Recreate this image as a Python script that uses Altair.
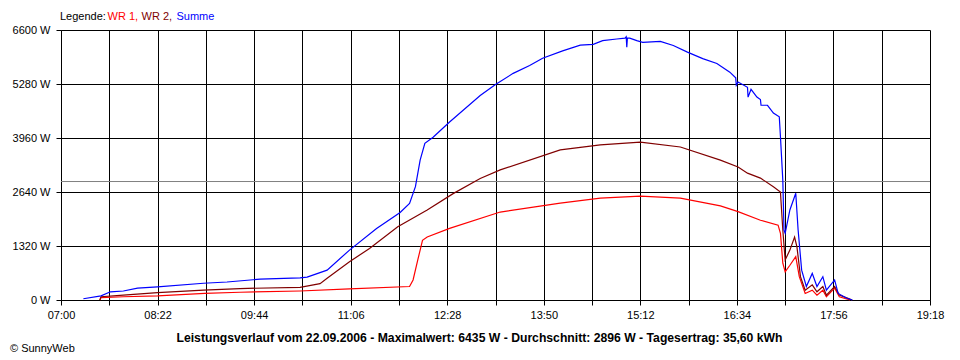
import altair as alt
import pandas as pd

# ---------------- data ----------------
wr1_time = ["07:33", "07:34", "07:53", "08:22", "09:02", "09:32", "10:23", "11:05", "11:56",
            "11:59", "12:03", "12:07", "12:11", "12:30", "13:13", "14:04", "14:38", "15:12",
            "15:46", "16:20", "16:35", "16:54", "17:09", "17:11", "17:13", "17:15", "17:19",
            "17:24", "17:27", "17:32", "17:38", "17:42", "17:47", "17:50", "17:57", "18:01", "18:10"]
wr1_w = [0, 60, 80, 100, 160, 190, 220, 270, 330,
         490, 980, 1460, 1540, 1750, 2150, 2370, 2490, 2540,
         2490, 2300, 2160, 1950, 1830, 1630, 900, 690, 850,
         1060, 570, 160, 240, 120, 240, 80, 290, 80, 0]

wr2_time = ["07:33", "07:34", "07:53", "08:22", "09:01", "09:32", "10:23", "10:40", "10:46",
            "11:05", "11:22", "11:46", "12:11", "12:33", "12:56", "13:13", "14:04", "14:38",
            "15:12", "15:46", "16:20", "16:35", "16:43", "16:54", "17:05", "17:11", "17:11:30",
            "17:13", "17:15", "17:19", "17:23", "17:25", "17:28", "17:32", "17:38", "17:42",
            "17:47", "17:50", "17:57", "18:01", "18:10", "18:12"]
wr2_w = [0, 80, 120, 180, 240, 280, 310, 400, 530,
         935, 1260, 1790, 2200, 2600, 2970, 3180, 3670, 3790,
         3860, 3740, 3420, 3250, 3100, 2980, 2770, 2640, 2400,
         1710, 980, 1220, 1540, 1300, 570, 240, 370, 200,
         330, 120, 330, 120, 20, 0]

sum_time = ["07:19", "07:34", "07:42", "07:53", "08:05", "08:22", "09:01", "09:21", "09:49",
            "10:23", "10:29", "10:46", "11:05", "11:28", "11:48", "11:56", "12:01", "12:05",
            "12:09", "12:16", "12:30", "12:56", "13:09", "13:24", "13:38", "13:49", "14:06",
            "14:21", "14:32", "14:40", "14:52", "14:59", "15:00", "15:00:30", "15:01", "15:03",
            "15:09", "15:14", "15:29", "15:40", "15:52", "16:05", "16:17", "16:28", "16:33",
            "16:33:30", "16:35", "16:43", "16:43:30", "16:46", "16:51", "16:54", "16:54:30",
            "17:00", "17:05", "17:10", "17:11", "17:13", "17:14", "17:15", "17:19", "17:24",
            "17:26", "17:29", "17:33", "17:38", "17:42", "17:47", "17:50", "17:57", "18:00",
            "18:07", "18:12"]
sum_w = [30, 100, 200, 220, 290, 320, 410, 440, 510,
         540, 560, 730, 1220, 1750, 2140, 2360, 2770, 3420,
         3830, 3980, 4350, 5000, 5270, 5540, 5730, 5910, 6090,
         6230, 6250, 6340, 6380, 6400, 6435, 6180, 6400, 6400,
         6340, 6300, 6320, 6220, 6060, 5900, 5780, 5570, 5430,
         5250, 5330, 5200, 4960, 5150, 4960, 4900, 4760,
         4760, 4570, 4480, 3990, 2930, 1710, 1630, 2200, 2610,
         1710, 730, 330, 650, 330, 570, 240, 490, 160,
         50, 0]

avg_w = [2896]
y_ticks = [0, 1320, 2640, 3960, 5280, 6600]
x_ticks = ["07:00", "07:41", "08:22", "09:03", "09:44", "10:25", "11:06", "11:47", "12:28",
           "13:09", "13:50", "14:31", "15:12", "15:53", "16:34", "17:15", "17:56", "18:37", "19:18"]
series_names = ["WR 1", "WR 2", "Summe"]
series_colors = ["#FF0000", "#800000", "#0000FF"]
legend_prefix = "Legende:"
legend_labels = ["WR 1,", "WR 2,", "Summe"]
footer_text = ("Leistungsverlauf vom 22.09.2006 - Maximalwert: 6435 W - "
               "Durchschnitt: 2896 W - Tagesertrag: 35,60 kWh")
copyright_text = "© SunnyWeb"


def to_min(s):
    parts = [int(p) for p in s.split(":")]
    m = parts[0] * 60 + parts[1]
    if len(parts) > 2:
        m += parts[2] / 60.0
    return m


frames = []
for name, times, vals in zip(series_names, [wr1_time, wr2_time, sum_time], [wr1_w, wr2_w, sum_w]):
    frames.append(pd.DataFrame({"m": [to_min(t) for t in times], "w": vals, "series": name}))
lines_df = pd.concat(frames, ignore_index=True)

x_vals = [to_min(t) for t in x_ticks]
x0 = x_vals[0]

FONT = "Liberation Sans"

x_enc = alt.X(
    "m:Q",
    scale=alt.Scale(domain=[x_vals[0], x_vals[-1]], nice=False, zero=False),
    axis=alt.Axis(
        values=x_vals, title=None, grid=True, tickSize=5, labelPadding=4,
        labelOverlap=False, labelFlush=False,
        labelExpr=(f"((datum.value - {x0}) % 82 == 0) ? "
                   "((floor(datum.value/60) < 10 ? '0' : '') + floor(datum.value/60) + ':' + "
                   "((datum.value % 60) < 10 ? '0' : '') + (datum.value % 60)) : ''"),
    ),
)
y_enc = alt.Y(
    "w:Q",
    scale=alt.Scale(domain=[0, 6600], nice=False),
    axis=alt.Axis(values=y_ticks, title=None, grid=True, tickSize=5, labelPadding=6,
                  labelExpr="datum.value + ' W'", labelOverlap=False),
)

avg_rule = alt.Chart(pd.DataFrame({"w": avg_w})).mark_rule(
    color="#808080", strokeWidth=1
).encode(y=y_enc)

lines = alt.Chart(lines_df).mark_line(strokeWidth=1.2, interpolate="linear").encode(
    x=x_enc,
    y=y_enc,
    color=alt.Color("series:N", scale=alt.Scale(domain=series_names, range=series_colors), legend=None),
)


def label(text, x, y, color="black", size=11, weight="normal", align="left"):
    return alt.Chart(pd.DataFrame({"t": [text]})).mark_text(
        font=FONT, fontSize=size, fontWeight=weight, color=color, align=align, baseline="middle"
    ).encode(text="t:N", x=alt.value(x), y=alt.value(y))


legend_layers = [label(legend_prefix, -1, -13.5)]
for txt, col, xpos in zip(legend_labels, series_colors, [46.5, 80.5, 115.5]):
    legend_layers.append(label(txt, xpos, -13.5, color=col))

footer = label(footer_text, 418.5, 307.5, weight="bold", size=12.2, align="center")
copyright_lbl = label(copyright_text, -51, 319, size=11)

chart = alt.layer(avg_rule, lines, *legend_layers, footer, copyright_lbl).properties(
    width=869, height=270,
    padding={"left": 53, "top": 22, "right": 20, "bottom": 58},
    autosize="none",
    background="white",
).configure_view(stroke=None).configure_axis(
    labelFont=FONT, labelFontSize=11, labelColor="black",
    domainColor="black", tickColor="black", gridColor="black",
    gridOpacity=1, gridWidth=1, domainWidth=1, tickWidth=1,
)

chart.save("out.html", embed_options={"renderer": "svg", "actions": False})
